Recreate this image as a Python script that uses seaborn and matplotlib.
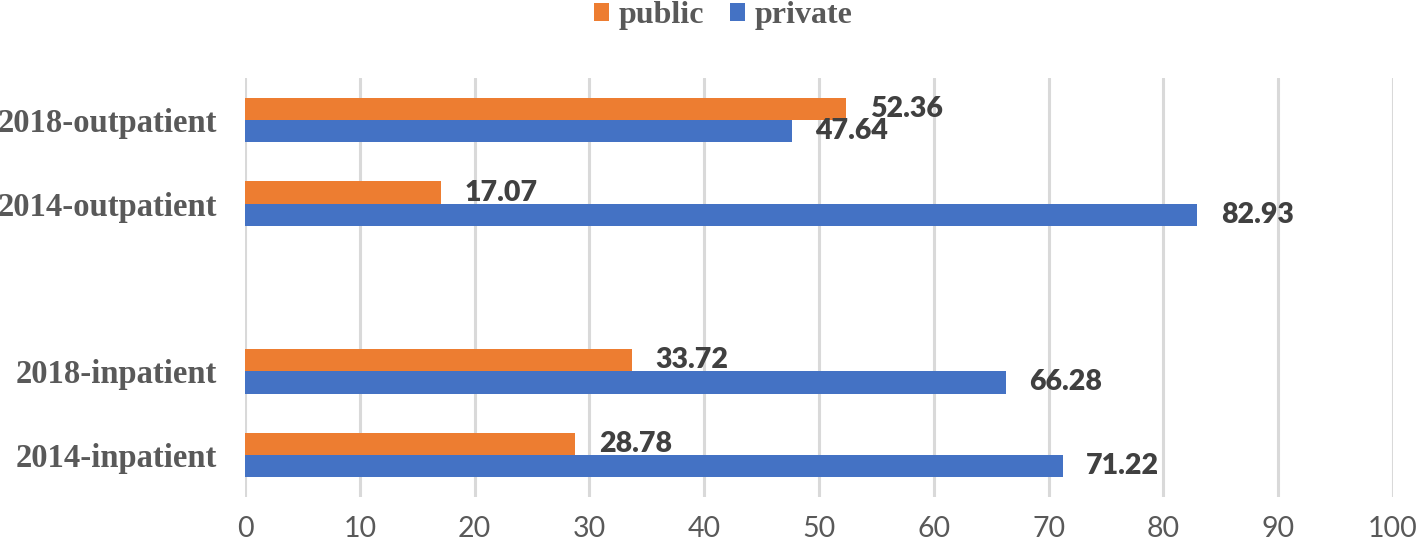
import matplotlib
matplotlib.use("Agg")
import matplotlib.pyplot as plt
import seaborn as sns
import pandas as pd

categories = ["2018-outpatient", "2014-outpatient", "2018-inpatient", "2014-inpatient"]
order = ["2018-outpatient", "2014-outpatient", " ", "2018-inpatient", "2014-inpatient"]
public = [52.36, 17.07, 33.72, 28.78]
private = [47.64, 82.93, 66.28, 71.22]
series = ["public", "private"]
xticks = list(range(0, 101, 10))

rows = []
for c, pu, pr in zip(categories, public, private):
    rows.append({"category": c, "sector": "public", "value": pu})
    rows.append({"category": c, "sector": "private", "value": pr})
df = pd.DataFrame(rows)

sns.set_theme(style="white")
plt.rcParams["font.family"] = ["Lato", "DejaVu Sans"]

fig = plt.figure(figsize=(14.17, 5.49), dpi=100)
ax = fig.add_axes([245/1417, 1-497/549, (1393-245)/1417, (497-78)/549])

sns.barplot(data=df, y="category", x="value", hue="sector", order=order,
            hue_order=series, palette={"public": "#ED7D31", "private": "#4472C4"},
            orient="h", width=0.53, saturation=1, ax=ax, errorbar=None, linewidth=0)

for cont in ax.containers:
    ax.bar_label(cont, fmt="%.2f", padding=17, color="#404040",
                 fontsize=20.5, fontweight="heavy", family="Lato")

ax.set_xlim(0, 100)
ax.set_xticks(xticks)
ax.set_xlabel("")
ax.set_ylabel("")
for s in ax.spines.values():
    s.set_visible(False)
ax.grid(axis="x", color="#D9D9D9", linewidth=2.2)
ax.grid(axis="y", visible=False)
ax.set_axisbelow(True)
ax.tick_params(axis="x", length=0, pad=14, labelsize=20.5, labelcolor="#595959")
ax.tick_params(axis="y", length=0, pad=20)
for lab in ax.get_yticklabels():
    lab.set_family(["Liberation Serif"])
    lab.set_fontweight("bold")
    lab.set_fontsize(23.5)
    lab.set_color("#595959")

leg = ax.get_legend()
handles = leg.legend_handles
leg.remove()
fig.legend(handles, series, loc="center", bbox_to_anchor=(723/1417, 1-16/549), ncol=2,
           frameon=False, handlelength=0.48, handleheight=0.48, handletextpad=0.3,
           columnspacing=0.8, prop={"family": "Liberation Serif", "weight": "bold", "size": 23},
           labelcolor="#595959")

fig.savefig("out.png", dpi=100)
